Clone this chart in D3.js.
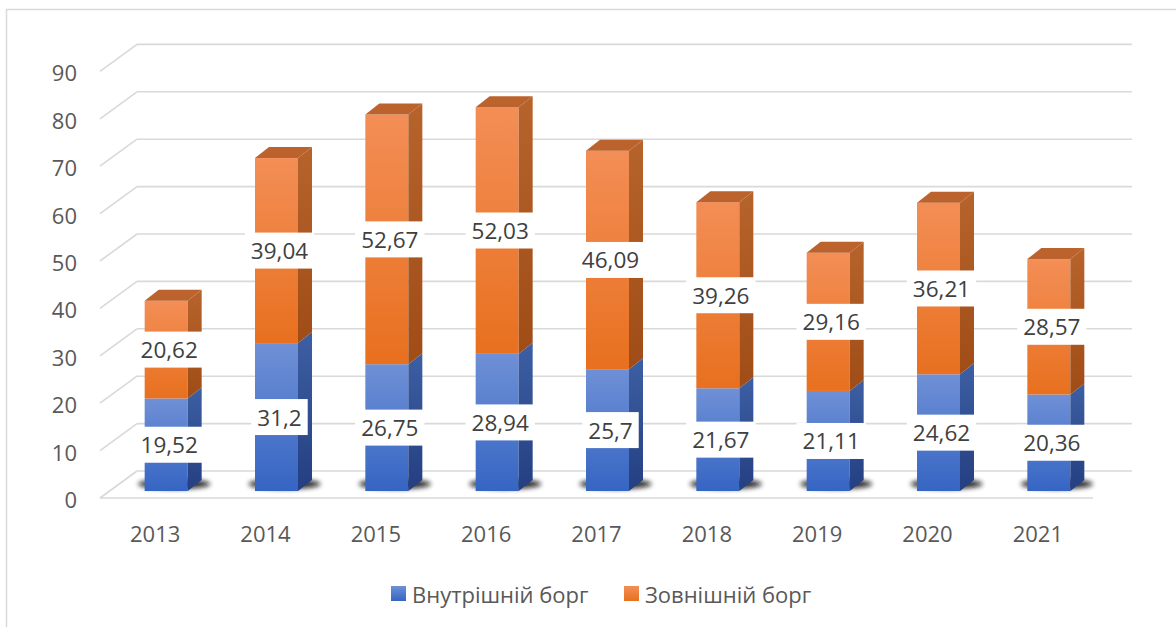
<!DOCTYPE html>
<html><head><meta charset="utf-8">
<script src="https://cdn.jsdelivr.net/npm/d3@7"></script>
<style>body{margin:0;background:#fff}svg{display:block}</style>
</head><body>
<svg id="chart" width="1176" height="627"></svg>
<script>
const years = ["2013","2014","2015","2016","2017","2018","2019","2020","2021"];
const internalDebt = [19.52,31.2,26.75,28.94,25.7,21.67,21.11,24.62,20.36];
const externalDebt = [20.62,39.04,52.67,52.03,46.09,39.26,29.16,36.21,28.57];
const yTicks = [0,10,20,30,40,50,60,70,80,90];
const seriesNames = ["Внутрішній борг","Зовнішній борг"];

const fmt = v => String(v).replace(".", ",");
const svg = d3.select("#chart");
const FONT = "'Open Sans','Noto Sans',sans-serif";

const x = d3.scaleBand().domain(years).range([100, 1093]).padding(0);
const y = d3.scaleLinear().domain([0, 90]).range([498, 71.4]);
const BACK = {dx: 37, dy: -27};
const BAR_OFF = {dx: 11, dy: -7};
const DEPTH = {dx: 14, dy: -11};
const barW = 43;

const defs = svg.append("defs");
function lg(id, c1, c2) {
  const g = defs.append("linearGradient").attr("id", id).attr("x1",0).attr("y1",0).attr("x2",0).attr("y2",1);
  g.append("stop").attr("offset","0%").attr("stop-color",c1);
  g.append("stop").attr("offset","100%").attr("stop-color",c2);
}
lg("bFront", "#6F90D6", "#3565C3");
lg("bSide", "#3D5FA3", "#243F82");
lg("oFront", "#F38E56", "#E8701F");
lg("oSide", "#B7632C", "#A04C16");
const blur = defs.append("filter").attr("id","blur").attr("x","-50%").attr("y","-200%").attr("width","200%").attr("height","500%");
blur.append("feGaussianBlur").attr("stdDeviation", 2.5);

// frame
svg.append("rect").attr("x",6.5).attr("y",9.5).attr("width",1300).attr("height",700)
  .attr("fill","none").attr("stroke","#D9D9D9").attr("stroke-width",1.5);

// gridlines (back wall + left wall diagonals)
const grid = svg.append("g").attr("stroke","#D9D9D9").attr("stroke-width",1.6).attr("fill","none");
yTicks.forEach(v => {
  const yb = y(v) + BACK.dy;
  grid.append("line").attr("x1", 100 + BACK.dx).attr("x2", 1132).attr("y1", yb).attr("y2", yb);
  grid.append("line").attr("x1", 100).attr("y1", y(v)).attr("x2", 100 + BACK.dx).attr("y2", yb);
});
// floor front edge
grid.append("line").attr("x1",100).attr("x2",1093).attr("y1",y(0)).attr("y2",y(0));

// shadows
svg.append("g").selectAll("ellipse").data(years).join("ellipse")
  .attr("cx", d => x(d) + x.bandwidth()/2 + BAR_OFF.dx + 8)
  .attr("cy", y(0) + BAR_OFF.dy - 7)
  .attr("rx", 36).attr("ry", 5)
  .attr("fill", "#111").attr("opacity", 0.9).attr("filter","url(#blur)");

// bars
const stacks = years.map((yr, i) => ({
  year: yr,
  segs: [
    {s: 0, e: internalDebt[i], front: "url(#bFront)", side: "url(#bSide)", v: internalDebt[i]},
    {s: internalDebt[i], e: internalDebt[i] + externalDebt[i], front: "url(#oFront)", side: "url(#oSide)", v: externalDebt[i]}
  ]
}));
const yBar = v => y(v) + BAR_OFF.dy;
const bars = svg.append("g");
stacks.forEach(st => {
  const xl = x(st.year) + (x.bandwidth() - barW)/2 + BAR_OFF.dx;
  const xr = xl + barW;
  const g = bars.append("g");
  st.segs.forEach(sg => {
    const yt = yBar(sg.e), yb = yBar(sg.s);
    g.append("rect").attr("x", xl).attr("y", yt).attr("width", barW).attr("height", yb - yt).attr("fill", sg.front);
    g.append("polygon").attr("points", [[xr,yt],[xr+DEPTH.dx,yt+DEPTH.dy],[xr+DEPTH.dx,yb+DEPTH.dy],[xr,yb]].join(" "))
      .attr("fill", sg.side);
  });
  const top = st.segs[1];
  const yt = yBar(top.e);
  g.append("polygon").attr("points", [[xl,yt],[xl+DEPTH.dx,yt+DEPTH.dy],[xr+DEPTH.dx,yt+DEPTH.dy],[xr,yt]].join(" "))
    .attr("fill", "#BC622C");
});

// data labels
const labels = svg.append("g");
stacks.forEach(st => {
  const cx = x(st.year) + x.bandwidth()/2 + BAR_OFF.dx + 3;
  st.segs.forEach(sg => {
    const cy = (yBar(sg.s) + yBar(sg.e)) / 2;
    const g = labels.append("g");
    const t = g.append("text").attr("x", cx).attr("y", cy).attr("text-anchor","middle")
      .attr("dominant-baseline","central").attr("font-family", FONT).attr("font-size", 22.5)
      .attr("fill", "#404040").text(fmt(sg.v));
    const w = t.node().getComputedTextLength() + 12;
    g.insert("rect", "text").attr("x", cx - w/2).attr("y", cy - 18).attr("width", w).attr("height", 36).attr("fill", "#fff");
  });
});

// y axis labels
svg.append("g").selectAll("text").data(yTicks).join("text")
  .attr("x", 77).attr("y", d => y(d) + 1).attr("text-anchor","end").attr("dominant-baseline","central")
  .attr("font-family", FONT).attr("font-size", 22).attr("fill", "#595959").text(d => d);

// x axis labels
svg.append("g").selectAll("text").data(years).join("text")
  .attr("x", d => x(d) + x.bandwidth()/2).attr("y", 533).attr("text-anchor","middle").attr("dominant-baseline","central")
  .attr("font-family", FONT).attr("font-size", 22).attr("fill", "#595959").text(d => d);

// legend
const legend = svg.append("g");
const legItems = [{name: seriesNames[0], fill: "url(#bFront)", x: 391}, {name: seriesNames[1], fill: "url(#oFront)", x: 624}];
legItems.forEach(it => {
  legend.append("rect").attr("x", it.x).attr("y", 586).attr("width", 15).attr("height", 15).attr("fill", it.fill);
  legend.append("text").attr("x", it.x + 21).attr("y", 594).attr("dominant-baseline","central")
    .attr("font-family", FONT).attr("font-size", 22).attr("fill", "#595959").text(it.name);
});
</script>
</body></html>
